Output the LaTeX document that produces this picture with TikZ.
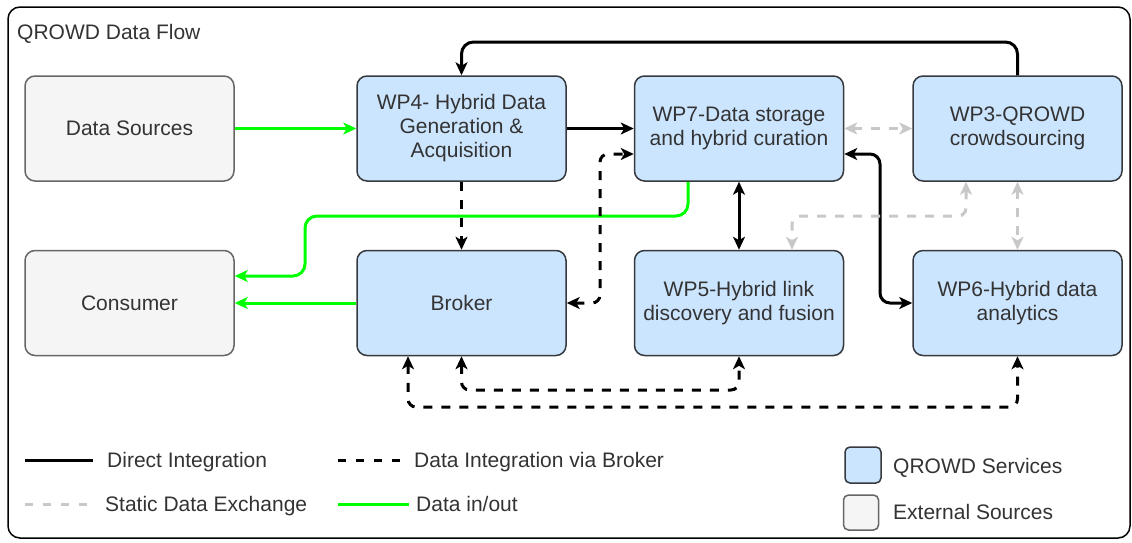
\documentclass[tikz,border=0pt]{standalone}
\usepackage{fontspec}
\setmainfont{Liberation Sans}
\usetikzlibrary{arrows.meta}
\definecolor{svcfill}{HTML}{CCE5FF}
\definecolor{svcdraw}{HTML}{36393D}
\definecolor{extfill}{HTML}{F5F5F5}
\definecolor{extdraw}{HTML}{666666}
\definecolor{txt}{HTML}{333333}
\definecolor{sgray}{HTML}{C8C8C8}
\definecolor{dgreen}{HTML}{00FF00}
\begin{document}
\begin{tikzpicture}[x=1pt,y=-1pt,
  font=\fontsize{21}{24}\selectfont,
  >={Stealth[length=13pt,width=12pt,inset=3.5pt]},
  svc/.style={draw=svcdraw,fill=svcfill,line width=1.5pt,rounded corners=10pt,
    minimum width=209pt,minimum height=105pt,align=center,text=txt,inner sep=0pt},
  ext/.style={svc,draw=extdraw,fill=extfill},
  direct/.style={line width=3pt,draw=black},
  brk/.style={line width=3pt,draw=black,dash pattern=on 9pt off 9pt},
  static/.style={line width=3pt,draw=sgray,dash pattern=on 9pt off 9pt},
  datio/.style={line width=3pt,draw=dgreen},
  lbl/.style={text=txt,inner sep=0pt,anchor=base west},
  legbox/.style={line width=1.5pt,rounded corners=5pt,minimum width=36pt,minimum height=36pt,inner sep=0pt}
]
\useasboundingbox (0,0) rectangle (1132,542);
\draw[line width=1.5pt,rounded corners=12pt] (8,7) rectangle (1130,538);
\node[lbl] (title) at (17,39.5) {QROWD Data Flow};

% boxes
\node[ext] (ds) at (129.5,128.5) {Data Sources};
\node[svc] (wp4) at (461.5,128.5) {WP4- Hybrid Data\\Generation \&\\Acquisition};
\node[svc] (wp7) at (739,128.5) {WP7-Data storage\\and hybrid curation};
\node[svc] (wp3) at (1017.5,128.5) {WP3-QROWD\\crowdsourcing};
\node[ext] (cons) at (129.5,303) {Consumer};
\node[svc] (broker) at (461.5,303) {Broker};
\node[svc] (wp5) at (739,303) {WP5-Hybrid link\\discovery and fusion};
\node[svc] (wp6) at (1017.5,303) {WP6-Hybrid data\\analytics};

\coordinate (ytop) at (0,42);
\coordinate (y390) at (0,390);
\coordinate (y407) at (0,407);

% connectors
\draw[datio,->] (ds.east) -- (wp4.west);
\draw[direct,->] (wp4.east) -- (wp7.west);
\draw[direct,->,rounded corners=12pt] (wp3.north) -- (wp3.north |- ytop) -- (wp4.north |- ytop) -- (wp4.north);
\draw[static,<->] (wp7.east) -- (wp3.west);
\draw[datio,->,rounded corners=12pt] ([xshift=-51pt]wp7.south) |- (305,216) |- ([yshift=27pt]cons.east);
\draw[datio,->] (broker.west) -- (cons.east);
\draw[brk,->] (wp4.south) -- (broker.north);
\draw[brk,<->,rounded corners=8pt] (broker.east) -| (600,154) -- ([yshift=-25.5pt]wp7.west);
\draw[direct,<->] (wp7.south) -- (wp5.north);
\draw[direct,<->,rounded corners=10pt] ([yshift=-25.5pt]wp7.east) -| (880,303) -- (wp6.west);
\draw[static,<->,rounded corners=8pt] ([xshift=-51.5pt]wp3.south) |- (792,216) -- ([xshift=53pt]wp5.north);
\draw[static,<->] (wp3.south) -- (wp6.north);
\draw[brk,<->,rounded corners=8pt] (broker.south) |- (wp5.south |- y390) -- (wp5.south);
\draw[brk,<->,rounded corners=8pt] ([xshift=-53.5pt]broker.south) |- (wp6.south |- y407) -- (wp6.south);

% legend
\coordinate (l1a) at (25,460); \coordinate (l1b) at (93,460);
\draw[direct] (l1a) -- (l1b);
\node[lbl] (t1) at (107,467.5) {Direct Integration};
\coordinate (l2a) at (25,504); \coordinate (l2b) at (95,504);
\draw[static,dash pattern=on 8pt off 10pt] (l2a) -- (l2b);
\node[lbl] (t2) at (105,511.5) {Static Data Exchange};
\coordinate (l3a) at (338,460); \coordinate (l3b) at (408,460);
\draw[brk,dash pattern=on 8pt off 10pt] (l3a) -- (l3b);
\node[lbl] (t3) at (414,467.5) {Data Integration via Broker};
\coordinate (l4a) at (338,504); \coordinate (l4b) at (409,504);
\draw[datio] (l4a) -- (l4b);
\node[lbl] (t4) at (416,511.5) {Data in/out};
\node[legbox,draw=svcdraw,fill=svcfill] (lb1) at (863,465) {};
\node[lbl] (t5) at (893,473.5) {QROWD Services};
\node[legbox,draw=extdraw,fill=extfill,minimum width=35pt,minimum height=35pt] (lb2) at (861,512.5) {};
\node[lbl] (t6) at (893,519.5) {External Sources};
\end{tikzpicture}
\end{document}
